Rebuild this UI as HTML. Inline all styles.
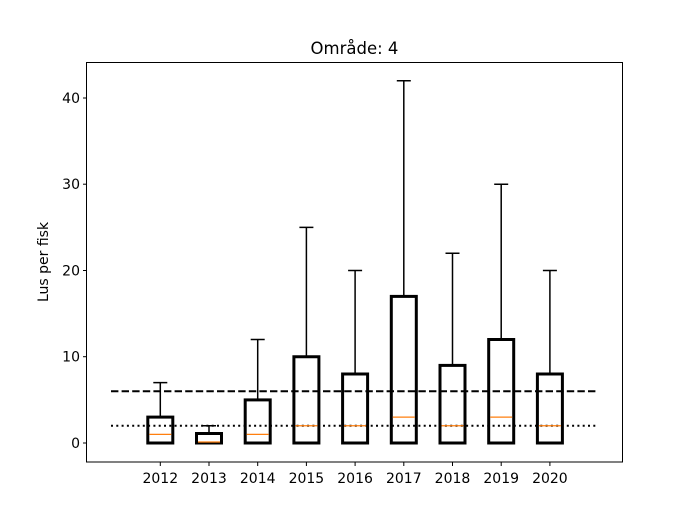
<!DOCTYPE html>
<html><head><meta charset="utf-8"><style>body{margin:0;background:#fff}svg{display:block}</style></head>
<body>
<svg width="692" height="519" viewBox="0 0 692 519" xmlns="http://www.w3.org/2000/svg" font-family="DejaVu Sans, Liberation Sans, sans-serif">
<rect width="692" height="519" fill="#fff"/>
<text x="354.5" y="54" font-size="16.5" text-anchor="middle">Område: 4</text>
<g stroke="#000" stroke-width="2" fill="none">
<line x1="111" y1="391.2" x2="598" y2="391.2" stroke-dasharray="7.4,3.2"/>
<line x1="111" y1="425.7" x2="598" y2="425.7" stroke-dasharray="2,3.3"/>
</g>
<g stroke="#000" stroke-width="1.5" fill="none">
<path d="M160.3 417.1V382.6M153.3 382.6H167.3"/>
<path d="M209 433.5V425.75M202 425.75H216"/>
<path d="M257.7 399.9V339.5M250.7 339.5H264.7"/>
<path d="M306.4 356.75V227.4M299.4 227.4H313.4"/>
<path d="M355.1 374V270.5M348.1 270.5H362.1"/>
<path d="M403.8 296.4V80.75M396.8 80.75H410.8"/>
<path d="M452.5 365.4V253.25M445.5 253.25H459.5"/>
<path d="M501.2 339.5V184.25M494.2 184.25H508.2"/>
<path d="M549.9 374V270.5M542.9 270.5H556.9"/>
</g>
<g stroke="#000" stroke-width="3" fill="none">
<rect x="147.8" y="417.1" width="25" height="25.9"/>
<rect x="196.5" y="433.5" width="25" height="9.5"/>
<rect x="245.2" y="399.9" width="25" height="43.1"/>
<rect x="293.9" y="356.75" width="25" height="86.25"/>
<rect x="342.6" y="374" width="25" height="69"/>
<rect x="391.3" y="296.4" width="25" height="146.6"/>
<rect x="440" y="365.4" width="25" height="77.6"/>
<rect x="488.7" y="339.5" width="25" height="103.5"/>
<rect x="537.4" y="374" width="25" height="69"/>
</g>
<g stroke="#ff7f0e" stroke-width="1.3">
<line x1="149.3" y1="434.4" x2="171.3" y2="434.4"/>
<line x1="198" y1="442" x2="220" y2="442"/>
<line x1="246.7" y1="434.4" x2="268.7" y2="434.4"/>
<line x1="295.4" y1="425.75" x2="317.4" y2="425.75"/>
<line x1="344.1" y1="425.75" x2="366.1" y2="425.75"/>
<line x1="392.8" y1="417.1" x2="414.8" y2="417.1"/>
<line x1="441.5" y1="425.75" x2="463.5" y2="425.75"/>
<line x1="490.2" y1="417.1" x2="512.2" y2="417.1"/>
<line x1="538.9" y1="425.75" x2="560.9" y2="425.75"/>
</g>
<rect x="86.5" y="62.5" width="536" height="399.5" fill="none" stroke="#000" stroke-width="1"/>
<g stroke="#000" stroke-width="1">
<line x1="83" y1="443" x2="86.5" y2="443"/><line x1="83" y1="356.7" x2="86.5" y2="356.7"/>
<line x1="83" y1="270.5" x2="86.5" y2="270.5"/><line x1="83" y1="184.2" x2="86.5" y2="184.2"/>
<line x1="83" y1="98" x2="86.5" y2="98"/>
<path d="M160.3 462v4M209 462v4M257.7 462v4M306.4 462v4M355.1 462v4M403.8 462v4M452.5 462v4M501.2 462v4M549.9 462v4"/>
</g>
<g font-size="14" text-anchor="end">
<text x="80" y="448">0</text><text x="80" y="361.7">10</text><text x="80" y="275.5">20</text>
<text x="80" y="189.2">30</text><text x="80" y="103">40</text>
</g>
<g font-size="14" text-anchor="middle">
<text x="160.3" y="483">2012</text><text x="209" y="483">2013</text><text x="257.7" y="483">2014</text>
<text x="306.4" y="483">2015</text><text x="355.1" y="483">2016</text><text x="403.8" y="483">2017</text>
<text x="452.5" y="483">2018</text><text x="501.2" y="483">2019</text><text x="549.9" y="483">2020</text>
</g>
<text transform="translate(48,262) rotate(-90)" font-size="14" text-anchor="middle">Lus per fisk</text>
</svg>
</body></html>
